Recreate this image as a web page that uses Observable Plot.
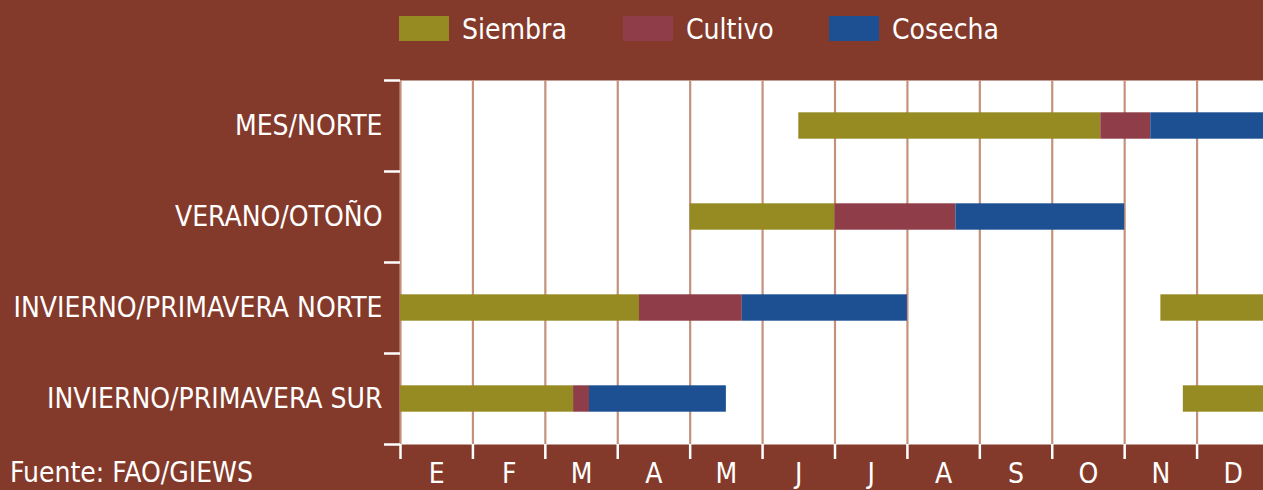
<!DOCTYPE html>
<html>
<head>
<meta charset="utf-8">
<script src="https://cdn.jsdelivr.net/npm/d3@7"></script>
<script src="https://cdn.jsdelivr.net/npm/@observablehq/plot@0.6"></script>
<style>
  html, body { margin: 0; padding: 0; background: #843a2b; overflow: hidden; }
  #wrap { position: relative; width: 1263px; height: 490px; overflow: hidden; background: #843a2b;
          font-family: "Liberation Sans Narrow", "DejaVu Sans Condensed", "Roboto Condensed", sans-serif; color: #fff; }
  #chart { position: absolute; left: 0; top: 0; width: 1270px; }
  #chart svg { max-width: none !important; width: 1270px !important; height: 490px !important; }
  .sw { position: absolute; top: 16px; width: 50px; height: 25px; }
  .lt { position: absolute; top: 13px; font-size: 28px; line-height: 34px; color: #fff; white-space: nowrap; }
  #src { position: absolute; left: 10px; top: 456px; font-size: 28px; line-height: 34px; color: #fff; white-space: nowrap; }
</style>
</head>
<body>
<div id="wrap">
  <div id="chart"></div>
  <div id="legend"></div>
  <div id="src"></div>
</div>
<script>
const categories = ["MES/NORTE", "VERANO/OTOÑO", "INVIERNO/PRIMAVERA NORTE", "INVIERNO/PRIMAVERA SUR"];
const months = ["E", "F", "M", "A", "M", "J", "J", "A", "S", "O", "N", "D"];
const phases = ["Siembra", "Cultivo", "Cosecha"];
const phaseColors = ["#968b22", "#8f3d48", "#1c5093"];

// segments (month units, 0 = start of January, 12 = end of December)
const segCategory = [0, 0, 0, 1, 1, 1, 2, 2, 2, 2, 3, 3, 3, 3];
const segPhase = ["Siembra", "Cultivo", "Cosecha", "Siembra", "Cultivo", "Cosecha",
                  "Siembra", "Cultivo", "Cosecha", "Siembra", "Siembra", "Cultivo", "Cosecha", "Siembra"];
const segStart = [5.5, 9.67, 10.36, 4.0, 6.0, 7.67, 0.0, 3.3, 4.72, 10.5, 0.0, 2.39, 2.61, 10.81];
const segEnd = [9.67, 10.36, 12.0, 6.0, 7.67, 10.0, 3.3, 4.72, 7.0, 12.0, 2.39, 2.61, 4.5, 12.0];

const source = "Fuente: FAO/GIEWS";

const segs = segCategory.map((c, i) => ({
  cat: c, phase: segPhase[i], x1: segStart[i], x2: segEnd[i]
}));

const monthBounds = d3.range(0, months.length + 1);
const monthCenters = months.map((m, i) => i + 0.5);
const catBounds = d3.range(0, categories.length + 1);
const catCenters = categories.map((c, i) => i + 0.5);
const barHalf = 0.145;

const fontFamily = '"Liberation Sans Narrow", "DejaVu Sans Condensed", "Roboto Condensed", sans-serif';

const chart = Plot.plot({
  width: 1270,
  height: 490,
  marginTop: 80,
  marginBottom: 46,
  marginLeft: 400,
  marginRight: 1,
  style: { background: "transparent", color: "#fff", fontFamily, fontSize: "28px" },
  x: { domain: [0, 12], axis: null },
  y: { domain: [0, categories.length], reverse: true, axis: null },
  color: { domain: phases, range: phaseColors },
  marks: [
    Plot.frame({ fill: "#fff", stroke: null }),
    Plot.ruleX(monthBounds, { x: d => d, stroke: "#c4917d", strokeWidth: 2.2 }),
    Plot.rect(segs, {
      x1: "x1", x2: "x2",
      y1: d => d.cat + 0.5 - barHalf, y2: d => d.cat + 0.5 + barHalf,
      fill: "phase"
    }),
    // x axis: ticks at month boundaries, labels at centres
    Plot.axisX(monthBounds, { tickSize: 15, stroke: "#fff", strokeWidth: 2.5, text: null }),
    Plot.axisX(monthCenters, { tickSize: 0, tickPadding: 19, tickFormat: d => months[Math.floor(d)], fontSize: 28, fill: "#fff" }),
    // y axis: ticks at category boundaries, labels at centres
    Plot.axisY(catBounds, { tickSize: 16, stroke: "#fff", strokeWidth: 2.5, text: null }),
    Plot.axisY(catCenters, { tickSize: 0, tickPadding: 18, tickFormat: d => categories[Math.floor(d)], fontSize: 28, fill: "#fff" })
  ]
});
document.getElementById("chart").appendChild(chart);

// legend
const legendSw = [399, 623, 829];
const legendTx = [462, 686, 892];
const legend = document.getElementById("legend");
phases.forEach((p, i) => {
  const sw = document.createElement("div");
  sw.className = "sw";
  sw.style.left = legendSw[i] + "px";
  sw.style.background = phaseColors[i];
  legend.appendChild(sw);
  const t = document.createElement("div");
  t.className = "lt";
  t.style.left = legendTx[i] + "px";
  t.textContent = p;
  legend.appendChild(t);
});
document.getElementById("src").textContent = source;
</script>
</body>
</html>
